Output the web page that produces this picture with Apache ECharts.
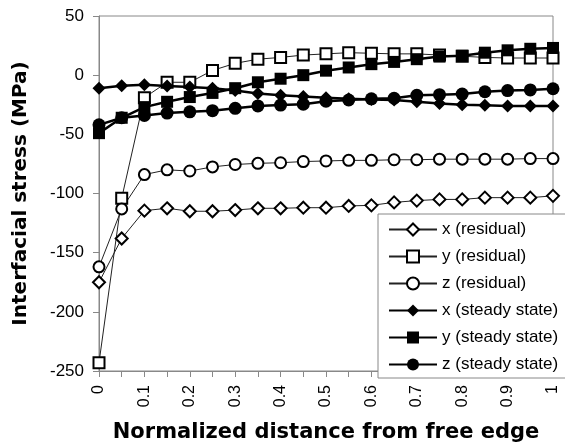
<!DOCTYPE html>
<html>
<head>
<meta charset="utf-8">
<script src="https://cdn.jsdelivr.net/npm/echarts@6/dist/echarts.min.js"></script>
<style>
html,body{margin:0;padding:0;background:#fff;}
#chart{width:565px;height:448px;}
</style>
</head>
<body>
<div id="chart"></div>
<script>
var xPos = [0, 0.05, 0.1, 0.15, 0.2, 0.25, 0.3, 0.35, 0.4, 0.45, 0.5, 0.55, 0.6, 0.65, 0.7, 0.75, 0.8, 0.85, 0.9, 0.95, 1];
var xResidual = [-175, -138, -114.5, -112.5, -115, -115, -114, -112.5, -112.5, -112, -112, -110.5, -110, -107.5, -106, -105, -105, -103.5, -103.5, -103.5, -102];
var yResidual = [-243, -104, -19, -6, -6, 4, 10, 13.5, 15, 17, 18, 19, 18.5, 18, 18, 17, 16, 15, 14.5, 14.5, 14.5];
var zResidual = [-162, -113, -84, -80, -81, -77.5, -75.5, -74.5, -74, -73, -72.5, -72, -72, -71.5, -71.5, -71, -71, -71, -71, -70.5, -70.5];
var xSteady = [-11, -9, -8, -9.2, -10, -11, -13, -15.5, -17, -18, -19, -20, -20.5, -21, -22.5, -24, -25, -25.5, -26, -26, -26];
var ySteady = [-49, -36, -27, -22.5, -18.5, -15, -11, -6, -3, 0, 3.8, 6.5, 9.3, 11.2, 13.5, 15.7, 16.4, 19, 21, 22.3, 23];
var zSteady = [-42, -36, -34, -32, -31, -30, -28, -26, -25.3, -24.5, -22, -21, -20, -19.5, -17, -16.5, -16, -14, -13, -12.5, -11.5];
var seriesNames = ['x (residual)', 'y (residual)', 'z (residual)', 'x (steady state)', 'y (steady state)', 'z (steady state)'];

function pairs(vals) {
  return xPos.map(function (x, i) { return [x, vals[i]]; });
}
var FONT = 'Liberation Sans, Arial, sans-serif';
var TITLE_FONT = 'DejaVu Sans, sans-serif';

function residual(name, vals, symbol, size) {
  return {
    name: name, type: 'line', data: pairs(vals),
    symbol: symbol, symbolSize: size,
    lineStyle: { color: '#222', width: 1 },
    itemStyle: { color: '#fff', borderColor: '#000', borderWidth: 2 },
    z: 2, animation: false
  };
}
function steady(name, vals, symbol, size) {
  return {
    name: name, type: 'line', data: pairs(vals),
    symbol: symbol, symbolSize: size,
    lineStyle: { color: '#000', width: 2.5 },
    itemStyle: { color: '#000', borderColor: '#000', borderWidth: 0 },
    z: 3, animation: false
  };
}

var chart = echarts.init(document.getElementById('chart'), null, { renderer: 'canvas' });
chart.setOption({
  backgroundColor: '#fff',
  animation: false,
  textStyle: { fontFamily: FONT },
  grid: { left: 99, right: 12, top: 16, bottom: 71, show: true, borderColor: '#888', borderWidth: 1, backgroundColor: 'transparent' },
  xAxis: {
    type: 'value', min: 0, max: 1, interval: 0.1,
    name: 'Normalized distance from free edge', nameLocation: 'middle', nameGap: 51,
    nameTextStyle: { fontFamily: TITLE_FONT, fontSize: 21, fontWeight: 'bold', color: '#000' },
    axisLine: { onZero: false, lineStyle: { color: '#888', width: 1 } },
    axisTick: { show: true, length: 6, lineStyle: { color: '#888' } },
    minorTick: { show: true, splitNumber: 2, length: 6, lineStyle: { color: '#888' } },
    splitLine: { show: false },
    axisLabel: { rotate: 90, margin: 14, fontFamily: FONT, fontSize: 16, color: '#000' }
  },
  yAxis: {
    type: 'value', min: -250, max: 50, interval: 50,
    name: 'Interfacial stress (MPa)', nameLocation: 'middle', nameGap: 68, nameRotate: 90,
    nameTextStyle: { fontFamily: TITLE_FONT, fontSize: 20, fontWeight: 'bold', color: '#000' },
    axisLine: { show: true, lineStyle: { color: '#888', width: 1 } },
    axisTick: { show: true, length: 6, lineStyle: { color: '#888' } },
    splitLine: { show: false },
    axisLabel: { margin: 15, fontFamily: FONT, fontSize: 17, color: '#000' }
  },
  legend: {
    orient: 'vertical', left: 378, top: 214,
    data: seriesNames,
    itemWidth: 48, itemHeight: 15, itemGap: 10,
    padding: [7, 30, 5, 10],
    backgroundColor: '#fff', borderColor: '#888', borderWidth: 1,
    textStyle: { fontFamily: FONT, fontSize: 17, color: '#000' },
    selectedMode: false, z: 10
  },
  series: [
    residual(seriesNames[0], xResidual, 'diamond', 12),
    residual(seriesNames[1], yResidual, 'rect', 11),
    residual(seriesNames[2], zResidual, 'circle', 11),
    steady(seriesNames[3], xSteady, 'diamond', 13),
    steady(seriesNames[4], ySteady, 'rect', 12),
    steady(seriesNames[5], zSteady, 'circle', 13)
  ]
});
</script>
</body>
</html>
